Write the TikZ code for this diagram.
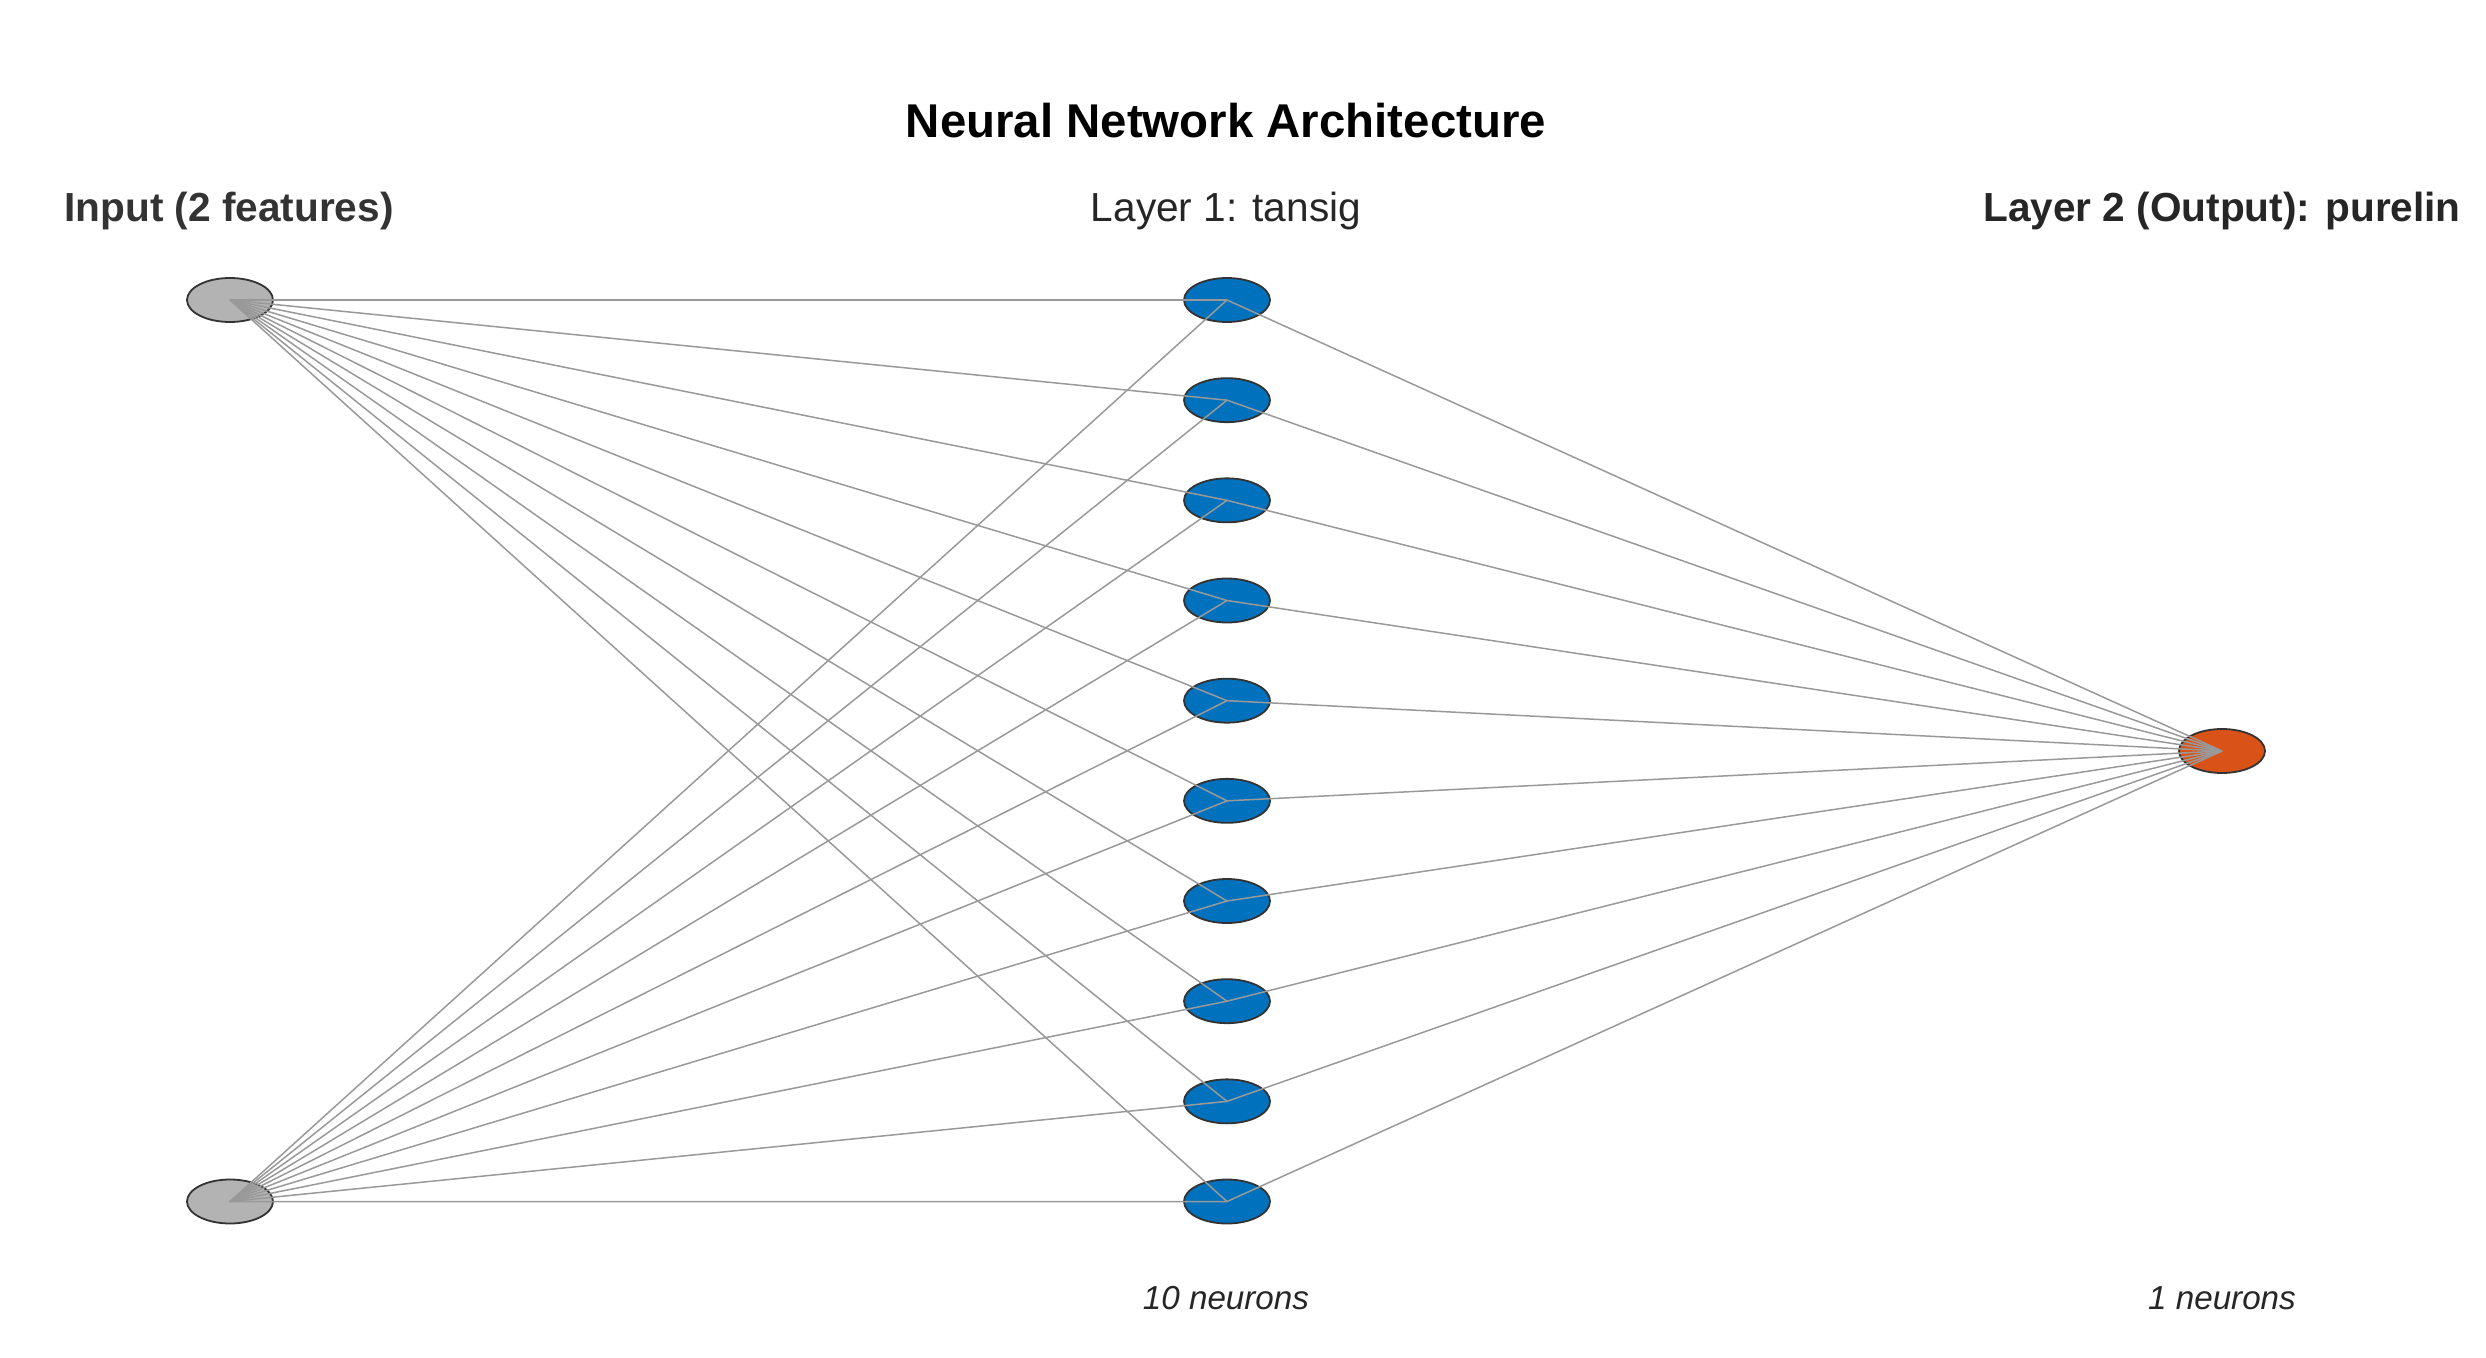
\documentclass[tikz,border=0pt]{standalone}
\usepackage{fontspec}
\setmainfont{Liberation Sans}
\usetikzlibrary{shapes.geometric}
\definecolor{inputgray}{HTML}{B3B3B3}
\definecolor{hiddenblue}{HTML}{0072BD}
\definecolor{outputorange}{HTML}{D95319}
\definecolor{linkgray}{HTML}{999999}
\definecolor{rimgray}{HTML}{333333}
\definecolor{labeltext}{HTML}{262626}
\tikzset{
  neuron/.style={ellipse,draw=rimgray,line width=.9pt,minimum width=43pt,minimum height=22pt,inner sep=0pt},
  link/.style={draw=linkgray,line width=.75pt},
  headbold/.style={anchor=base,inner sep=0pt,text=labeltext,font=\fontsize{20.3}{24}\selectfont\bfseries},
  headplain/.style={anchor=base,inner sep=0pt,text=labeltext,font=\fontsize{20.3}{24}\selectfont},
  countlabel/.style={anchor=base,inner sep=0pt,text=labeltext,font=\fontsize{16.6}{20}\selectfont\itshape}
}
\begin{document}
\begin{tikzpicture}[x=50pt,y=-50pt]
\useasboundingbox (0,0) rectangle (24.86,13.58);
% titles
\node[anchor=base,inner sep=0pt,font=\fontsize{23.7}{28}\selectfont\bfseries] (title) at (12.26,1.38) {Neural Network Architecture};
\node[headbold,text=rimgray] (inhead) at (2.29,2.22) {Input (2 features)};
\node[headplain] (hidhead) at (12.26,2.22) {Layer 1: tansig};
\node[headbold] (outhead) at (22.22,2.22) {Layer 2 (Output): purelin};
% neurons
\node[neuron,fill=inputgray] (in1) at (2.30,3.00) {};
\node[neuron,fill=inputgray] (in2) at (2.30,12.015) {};
\foreach \i in {1,...,10}
  \node[neuron,fill=hiddenblue] (h\i) at (12.27,{3.00+1.0017*(\i-1)}) {};
\node[neuron,fill=outputorange] (out) at (22.22,7.51) {};
% connections
\foreach \i in {1,...,10} {
  \draw[link] (in1.center) -- (h\i.center);
  \draw[link] (in2.center) -- (h\i.center);
  \draw[link] (h\i.center) -- (out.center);
}
% counts
\node[countlabel] (hidcount) at (12.26,13.09) {10 neurons};
\node[countlabel] (outcount) at (22.22,13.09) {1 neurons};
\end{tikzpicture}
\end{document}
